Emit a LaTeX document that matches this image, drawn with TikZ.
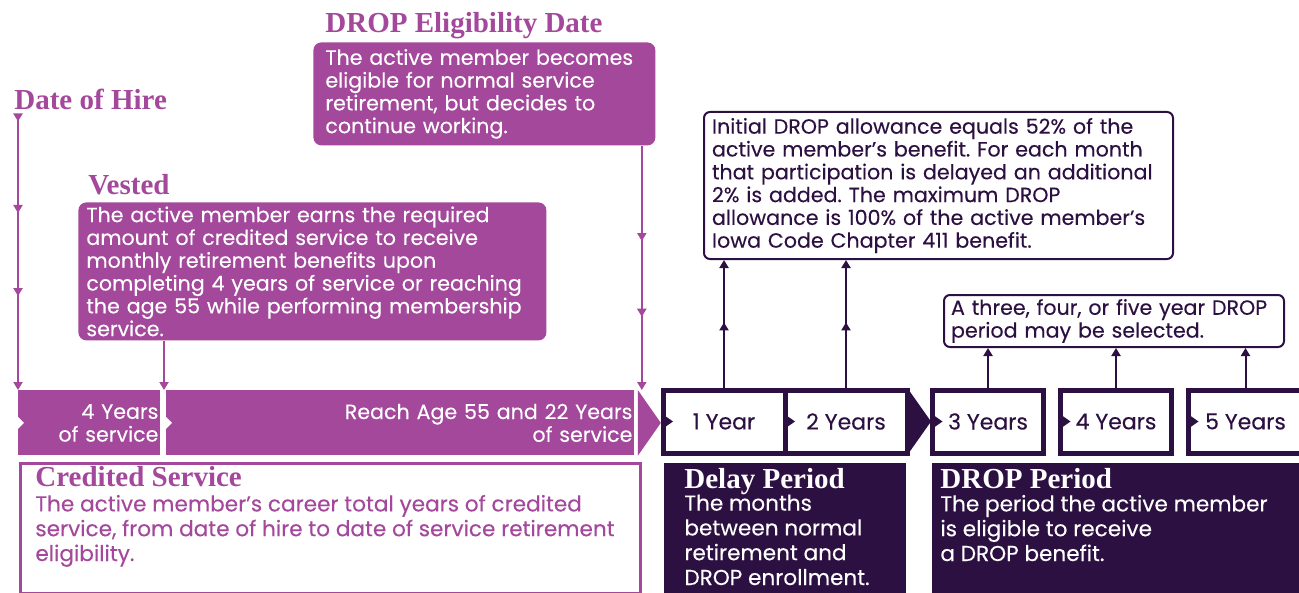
\documentclass[tikz,border=0pt]{standalone}
\usepackage{fontspec}
\setmainfont{Poppins}[FakeBold=0.2]
\newfontfamily\headfont{Liberation Serif}
\usetikzlibrary{arrows.meta,decorations.markings,positioning}
\definecolor{ipurple}{RGB}{163,72,155}
\definecolor{iplum}{RGB}{45,16,66}
\tikzset{midtip/.style={postaction={decorate,decoration={markings,mark=at position #1 with {\arrow{>}}}}}}
\frenchspacing

\begin{document}
\begin{tikzpicture}[x=0.5pt,y=-0.5pt,font=\fontsize{10.3}{11.4}\selectfont,>={Triangle[width=4.5pt,length=4pt]}]
\tikzstyle{title}=[font=\headfont\bfseries\fontsize{14.5}{16}\selectfont, inner sep=0pt, anchor=base west]
\tikzstyle{body}=[font=\fontsize{10.8}{12.4}\selectfont, inner sep=0pt, anchor=base west, align=left]
\tikzstyle{callout}=[rectangle, fill=ipurple, text=white, rounded corners=4pt, anchor=north west, align=left, inner ysep=0pt]
\tikzstyle{note}=[rectangle, draw=iplum, line width=1pt, fill=white, text=iplum, rounded corners=3pt, anchor=north west, align=left, inner xsep=4.5pt, inner ysep=0pt]
\tikzstyle{segment}=[rectangle, fill=ipurple, text=white, anchor=north west, align=right, minimum height=32.5pt, inner xsep=1pt, inner ysep=0pt]
\tikzstyle{period}=[rectangle, draw=iplum, line width=2.5pt, fill=white, text=iplum, font=\fontsize{11}{12}\selectfont, minimum height=31.5pt, outer sep=0pt, anchor=north west]
\tikzstyle{panel}=[rectangle, fill=iplum, anchor=north west, minimum height=70pt]
\tikzstyle{down}=[ipurple, line width=1pt, ->]
\tikzstyle{up}=[iplum, line width=1pt, ->]
\useasboundingbox (0,0) rectangle (1299,593);

\node[title, text=ipurple] (eligT) at (325,33) {DROP Eligibility Date};
\node[callout, text width=159pt, inner xsep=6pt, minimum height=51.5pt] (elig) at (313,42) {The active member becomes\\eligible for normal service\\retirement, but decides to\\continue working.};
\node[title, text=ipurple] (hire) at (14,110) {Date of Hire};
\node[title, text=ipurple] (vestT) at (88,195) {Vested};
\node[callout, text width=226pt, inner xsep=4pt, minimum height=69pt] (vest) at (78,202) {The active member earns the required\\amount of credited service to receive\\monthly retirement benefits upon\\completing 4 years of service or reaching\\the age 55 while performing membership\\service.};

\node[segment, text width=69pt] (seg1) at (18,390) {4 Years\\of service};
\node[segment, text width=232pt] (seg2) at (166,390) {Reach Age 55 and 22 Years\\of service};
\fill[ipurple] ([xshift=1.5pt]seg2.north east) -- ([xshift=13pt]seg2.east) -- ([xshift=1.5pt]seg2.south east) -- cycle;
\foreach \s in {seg1,seg2}
  \fill[white] ([yshift=3pt]\s.west) -- ([xshift=3pt]\s.west) -- ([yshift=-3pt]\s.west) -- cycle;

\coordinate (hireTop) at (18,116);
\draw[down, midtip=0.02, midtip=0.354, midtip=0.657] (hireTop) -- (seg1.north west);
\draw[down] ([xshift=43pt]vest.south west) -- ([xshift=43pt]vest.south west |- seg1.north);
\draw[down, midtip=0.39, midtip=0.70] ([xshift=-7pt]elig.south east) -- ([xshift=-7pt]elig.south east |- seg2.north);

\node[draw=ipurple, line width=1.5pt, anchor=north west, minimum width=310pt, minimum height=65pt] (cred) at (19,461.5) {};
\node[title, text=ipurple] (credT) at (35,486) {Credited Service};
\node[body, text=ipurple] (credB) at (35,561) {The active member’s career total years of credited\\service, from date of hire to date of service retirement\\eligibility.};

\node[note, text width=226.5pt, inner xsep=4pt, minimum height=73.5pt] (init) at (703,111) {Initial DROP allowance equals 52\% of the\\active member’s benefit. For each month\\that participation is delayed an additional\\2\% is added. The maximum DROP\\allowance is 100\% of the active member’s\\Iowa Code Chapter 411 benefit.};
\node[note, text width=163pt, inner xsep=3.5pt, minimum height=26pt] (three) at (943,294) {A three, four, or five year DROP\\period may be selected.};

\node[period, minimum width=61pt] (yr1) at (663,390) {1 Year};
\node[period, minimum width=61pt, right=0pt of yr1] (yr2) {2 Years};
\fill[iplum] ([yshift=1.25pt]yr2.north east) -- ([xshift=12pt]yr2.east) -- ([yshift=-1.25pt]yr2.south east) -- cycle;
\node[period, minimum width=55.5pt] (yr3) at (932.5,390) {3 Years};
\node[period, minimum width=55.5pt, right=8.5pt of yr3] (yr4) {4 Years};
\node[period, minimum width=57pt, right=8.5pt of yr4] (yr5) {5 Years};
\foreach \b in {yr1,yr2,yr3,yr4,yr5}
  \fill[iplum] ([yshift=3.5pt]\b.west) -- ([xshift=5pt]\b.west) -- ([yshift=-3.5pt]\b.west) -- cycle;

\draw[up, midtip=0.52] (yr1.north) -- (yr1.north |- init.south);
\draw[up, midtip=0.52] (yr2.north) -- (yr2.north |- init.south);
\foreach \b in {yr3,yr4,yr5}
  \draw[up] (\b.north) -- (\b.north |- three.south);

\node[panel, minimum width=121pt] (delay) at (664,463) {};
\node[title, text=white] (delayT) at (684,488) {Delay Period};
\node[body, text=white] (delayB) at (684,585) {The months\\between normal\\retirement and\\DROP enrollment.};
\node[panel, minimum width=187pt] (dropP) at (932,463) {};
\node[title, text=white] (dropT) at (940,488) {DROP Period};
\node[body, text=white] (dropB) at (940,561) {The period the active member\\is eligible to receive\\a DROP benefit.};
\end{tikzpicture}
\end{document}
